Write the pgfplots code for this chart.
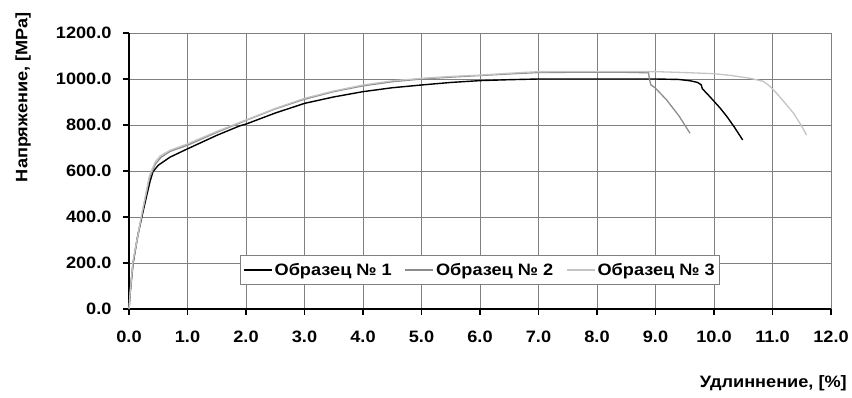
\documentclass[border=0pt]{standalone}
\usepackage{pgfplots}
\pgfplotsset{compat=1.18}
\usepackage{fontspec}
\setmainfont{Liberation Sans}[FakeStretch=1.1]
\definecolor{gridc}{HTML}{808080}
\definecolor{s2}{HTML}{8C8C8C}
\definecolor{s3}{HTML}{C4C4C4}
\newcommand{\chartfont}{\bfseries\fontsize{16.5}{18}\selectfont}
\begin{document}
\begin{tikzpicture}[x=1pt,y=1pt]
\useasboundingbox (-129,-88) rectangle (723,309);
\begin{axis}[
  at={(0,0)}, anchor=south west,
  scale only axis, width=702pt, height=276pt,
  xmin=0, xmax=12, ymin=0, ymax=1200,
  xtick={0,1,...,12}, ytick={0,200,...,1200},
  axis x line*=bottom, axis y line*=left,
  axis line style={black, line width=1.3pt, -},
  grid=major, major grid style={gridc, line width=0.8pt},
  tick style={black, line width=1.3pt},
  tick align=outside, major tick length=6pt,
  font=\chartfont,
  /pgf/number format/assume math mode=true,
  /pgf/number format/.cd, fixed, fixed zerofill, precision=1, 1000 sep={},
  /pgfplots/.cd,
  xticklabel style={yshift=-12pt},
  yticklabel style={xshift=-8pt},
  legend style={at={(axis cs:6,170)}, anchor=center, draw=gridc, line width=0.8pt,
     font=\chartfont, inner xsep=3pt, inner ysep=6pt,
     /tikz/every even column/.append style={column sep=11pt}},
  legend columns=3,
  legend image code/.code={\draw[#1] (0pt,0pt) -- (28pt,0pt);},
  clip=false,
]
\addplot[black, line width=1.4pt] coordinates {
(0,0) (0.02,70) (0.07,199) (0.15,320) (0.22,401) (0.3,490) (0.36,555) (0.41,597)
(0.5,625) (0.7,660) (0.98,694) (1.5,755) (1.89,796) (2.0,804) (2.5,852) (3.0,894)
(3.5,922) (4.0,945) (4.5,962) (5.0,974) (5.5,985) (6.0,993) (6.5,997) (7.0,1000)
(8.0,1000) (9.0,1000) (9.4,998) (9.6,992) (9.72,985) (9.78,975) (9.8,958) (9.93,923)
(10.1,875) (10.22,837) (10.35,790) (10.49,735)};
\addlegendentry{Образец № 1}
\addplot[s2, line width=1.3pt] coordinates {
(0,0) (0.02,75) (0.07,205) (0.22,410) (0.35,570) (0.45,630) (0.55,660) (0.7,685)
(1.0,712) (1.5,768) (2.0,820) (2.5,870) (3.0,912) (3.5,945) (4.0,970) (4.5,988)
(5.0,1000) (5.5,1008) (6.0,1015) (6.5,1022) (7.0,1028) (7.5,1029) (8.0,1029)
(8.5,1029) (8.88,1027) (8.9,995) (8.92,975) (9.0,960) (9.19,909) (9.4,840) (9.59,764)};
\addlegendentry{Образец № 2}
\addplot[s3, line width=1.3pt] coordinates {
(0,0) (0.02,75) (0.07,210) (0.22,415) (0.35,580) (0.45,640) (0.53,665) (0.7,690)
(1.0,718) (1.5,772) (2.0,822) (2.5,872) (3.0,916) (3.5,948) (4.0,974) (4.5,992)
(5.0,1003) (5.5,1011) (6.0,1017) (6.5,1025) (7.0,1032) (8.0,1033) (9.0,1032)
(9.5,1028) (10.0,1023) (10.3,1015) (10.62,1003) (10.84,990) (10.95,970) (11.07,938)
(11.2,900) (11.36,851) (11.5,795) (11.58,757)};
\addlegendentry{Образец № 3}
\end{axis}
\node[font=\chartfont, anchor=east, inner sep=0pt] at (718,-74) {Удлиннение, [\%]};
\node[font=\chartfont, rotate=90, inner sep=0pt] at (-106,212) {Напряжение, [MPa]};
\end{tikzpicture}
\end{document}
